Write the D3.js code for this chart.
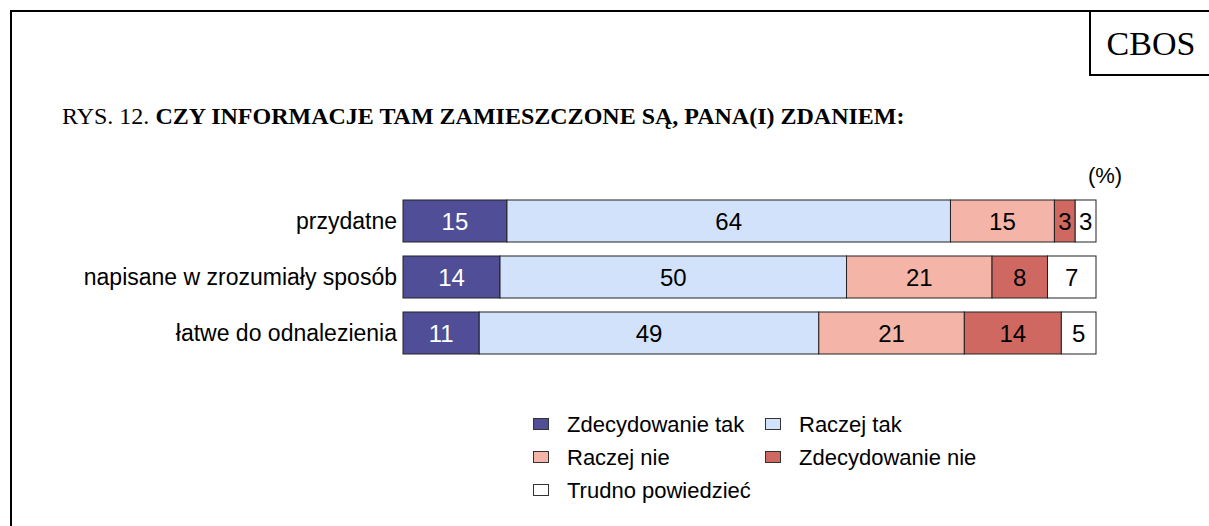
<!DOCTYPE html>
<html>
<head>
<meta charset="utf-8">
<script src="https://cdn.jsdelivr.net/npm/d3@7"></script>
<style>
  body { margin: 0; background: #fff; }
  svg { display: block; }
</style>
</head>
<body>
<div id="chart"></div>
<script>
// data (%)
var categories = ["przydatne", "napisane w zrozumiały sposób", "łatwe do odnalezienia"];
var seriesNames = ["Zdecydowanie tak", "Raczej tak", "Raczej nie", "Zdecydowanie nie", "Trudno powiedzieć"];
var zdecydowanieTak = [15, 14, 11];
var raczejTak = [64, 50, 49];
var raczejNie = [15, 21, 21];
var zdecydowanieNie = [3, 8, 14];
var trudnoPowiedziec = [3, 7, 5];
var colors = ["#4f4e96", "#d3e2fb", "#f4b5a8", "#cf6860", "#ffffff"];

var W = 1209, H = 526;
var sans = "Liberation Sans, Arial, sans-serif";
var serif = "Liberation Serif, Times New Roman, serif";

var svg = d3.select("#chart").append("svg")
    .attr("width", W)
    .attr("height", H);

// frame + CBOS box
svg.append("path")
    .attr("d", "M11,526 V11 H1209")
    .attr("fill", "none")
    .attr("stroke", "#000")
    .attr("stroke-width", 2);
svg.append("path")
    .attr("d", "M1090,11 V75 H1209")
    .attr("fill", "none")
    .attr("stroke", "#000")
    .attr("stroke-width", 2);
svg.append("text")
    .attr("x", 1151)
    .attr("y", 55)
    .attr("text-anchor", "middle")
    .style("font-family", serif)
    .style("font-size", "34px")
    .text("CBOS");

// title
var title = svg.append("text")
    .attr("x", 62)
    .attr("y", 124)
    .style("font-family", serif)
    .style("font-size", "24px");
title.append("tspan").text("RYS. 12. ");
title.append("tspan").style("font-weight", "bold")
    .text("CZY INFORMACJE TAM ZAMIESZCZONE SĄ, PANA(I) ZDANIEM:");

svg.append("text")
    .attr("x", 1105)
    .attr("y", 183)
    .attr("text-anchor", "middle")
    .style("font-family", sans)
    .style("font-size", "22px")
    .text("(%)");

// stacked bars
var rows = categories.map(function(c, i) {
  return {
    cat: c,
    "Zdecydowanie tak": zdecydowanieTak[i],
    "Raczej tak": raczejTak[i],
    "Raczej nie": raczejNie[i],
    "Zdecydowanie nie": zdecydowanieNie[i],
    "Trudno powiedzieć": trudnoPowiedziec[i]
  };
});
var stacked = d3.stack().keys(seriesNames)(rows);

var x = d3.scaleLinear().domain([0, 100]).range([403, 1096]);
var y = d3.scaleBand().domain(categories).range([200, 354]).paddingInner(0.25);
var color = d3.scaleOrdinal().domain(seriesNames).range(colors);

var layer = svg.append("g").selectAll("g")
  .data(stacked)
  .enter().append("g");

layer.selectAll("rect")
  .data(function(s) { return s.map(function(d) { d.key = s.key; return d; }); })
  .enter().append("rect")
    .attr("x", function(d) { return x(d[0]); })
    .attr("y", function(d) { return y(d.data.cat); })
    .attr("width", function(d) { return x(d[1]) - x(d[0]); })
    .attr("height", y.bandwidth())
    .attr("fill", function(d) { return color(d.key); })
    .attr("stroke", "#222")
    .attr("stroke-width", 1);

layer.selectAll("text")
  .data(function(s) { return s.map(function(d) { d.key = s.key; return d; }); })
  .enter().append("text")
    .attr("x", function(d) { return (x(d[0]) + x(d[1])) / 2; })
    .attr("y", function(d) { return y(d.data.cat) + y.bandwidth() / 2; })
    .attr("dy", "0.36em")
    .attr("text-anchor", "middle")
    .style("font-family", sans)
    .style("font-size", "24px")
    .attr("fill", function(d) { return d.key === "Zdecydowanie tak" ? "#fff" : "#000"; })
    .text(function(d) { return d[1] - d[0]; });

// category labels
svg.append("g").selectAll("text")
  .data(categories)
  .enter().append("text")
    .attr("x", 397)
    .attr("y", function(d) { return y(d) + y.bandwidth() / 2; })
    .attr("dy", "0.36em")
    .attr("text-anchor", "end")
    .style("font-family", sans)
    .style("font-size", "23px")
    .text(function(d) { return d; });

// legend
var legendPos = [[533, 424], [765, 424], [533, 457], [765, 457], [533, 490]];
var legend = svg.append("g").selectAll("g")
  .data(seriesNames)
  .enter().append("g")
    .attr("transform", function(d, i) { return "translate(" + legendPos[i][0] + "," + legendPos[i][1] + ")"; });
legend.append("rect")
    .attr("x", 0.5)
    .attr("y", -5.5)
    .attr("width", 15)
    .attr("height", 11)
    .attr("fill", function(d) { return color(d); })
    .attr("stroke", "#333");
legend.append("text")
    .attr("x", 34)
    .attr("dy", "0.36em")
    .style("font-family", sans)
    .style("font-size", "22px")
    .text(function(d) { return d; });
</script>
</body>
</html>
